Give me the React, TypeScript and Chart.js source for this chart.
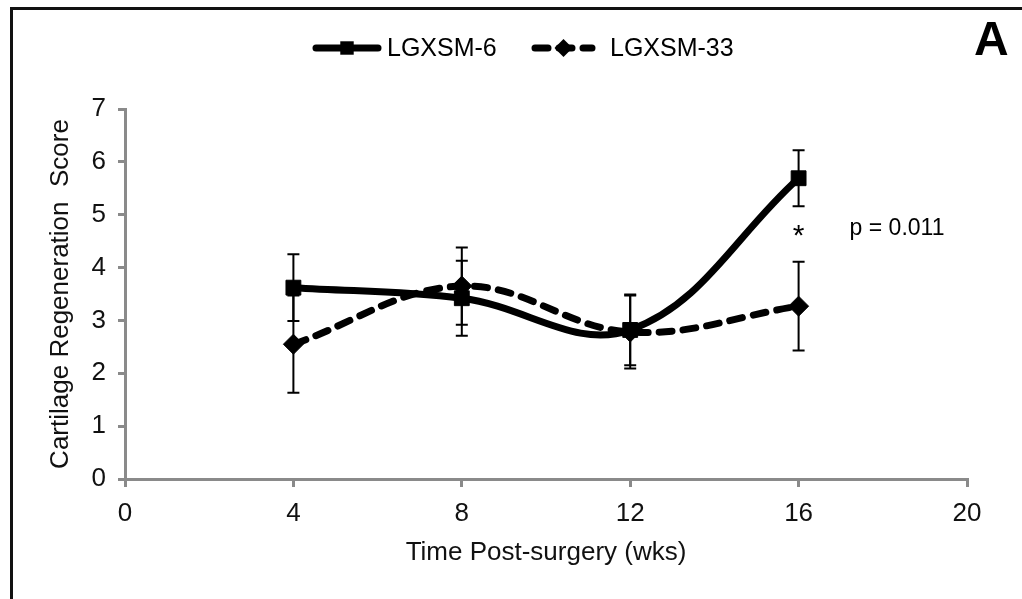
import React, { useEffect, useRef } from 'react';
import { Chart, registerables } from 'chart.js';

Chart.register(...registerables);

// ---- data ----
const weeks = [4, 8, 12, 16];
const seriesNames = ['LGXSM-6', 'LGXSM-33'];
const lgxsm6 = [3.62, 3.42, 2.82, 5.69];
const lgxsm6Err = [0.63, 0.71, 0.67, 0.53];
const lgxsm33 = [2.55, 3.65, 2.78, 3.27];
const lgxsm33Err = [0.92, 0.73, 0.69, 0.84];
const xTicks = [0, 4, 8, 12, 16, 20];
const yTicks = [0, 1, 2, 3, 4, 5, 6, 7];
const xTitle = 'Time Post-surgery (wks)';
const yTitle = 'Cartilage Regeneration  Score';
const sigWeek = 16;
const sigMark = '*';
const pText = 'p = 0.011';
const panelLabel = 'A';

const FONT = "'Liberation Sans', Arial, Helvetica, sans-serif";
const AXIS_GRAY = '#8a8a8a';

function drawMarker(ctx: CanvasRenderingContext2D, style: string, x: number, y: number, r: number) {
  ctx.beginPath();
  if (style === 'rect') {
    const s = r * Math.SQRT1_2;
    ctx.rect(x - s, y - s, 2 * s, 2 * s);
  } else {
    ctx.moveTo(x, y - r);
    ctx.lineTo(x + r, y);
    ctx.lineTo(x, y + r);
    ctx.lineTo(x - r, y);
    ctx.closePath();
  }
  ctx.fill();
}

const errorBarPlugin = {
  id: 'errorBars',
  afterDatasetsDraw(chart: any) {
    const { ctx, scales } = chart;
    const xs = scales.x;
    const ys = scales.y;
    ctx.save();
    ctx.strokeStyle = '#000';
    ctx.lineWidth = 2;
    chart.data.datasets.forEach((ds: any) => {
      const errs: number[] = ds.errors || [];
      ds.data.forEach((pt: any, j: number) => {
        const e = errs[j];
        if (e == null) return;
        const px = xs.getPixelForValue(pt.x);
        const top = ys.getPixelForValue(pt.y + e);
        const bot = ys.getPixelForValue(pt.y - e);
        const cap = 6;
        ctx.beginPath();
        ctx.moveTo(px, top);
        ctx.lineTo(px, bot);
        ctx.moveTo(px - cap, top);
        ctx.lineTo(px + cap, top);
        ctx.moveTo(px - cap, bot);
        ctx.lineTo(px + cap, bot);
        ctx.stroke();
      });
    });
    ctx.restore();
  },
};

const decorPlugin = {
  id: 'decor',
  afterDraw(chart: any) {
    const { ctx, scales } = chart;
    const xs = scales.x;
    const ys = scales.y;
    ctx.save();
    // custom legend
    const items = [
      { lineFrom: 313, lineTo: 381, textX: 387 },
      { lineFrom: 532, lineTo: 595, textX: 610 },
    ];
    const ly = 48;
    chart.data.datasets.forEach((ds: any, i: number) => {
      const it = items[i];
      ctx.strokeStyle = ds.borderColor;
      ctx.fillStyle = ds.borderColor;
      ctx.lineWidth = ds.borderWidth;
      ctx.lineCap = 'round';
      ctx.setLineDash(ds.borderDash || []);
      ctx.beginPath();
      ctx.moveTo(it.lineFrom + 3, ly);
      ctx.lineTo(it.lineTo - 3, ly);
      ctx.stroke();
      ctx.setLineDash([]);
      drawMarker(ctx, ds.pointStyle, (it.lineFrom + it.lineTo) / 2, ly, ds.pointStyle === 'rect' ? 9.5 : 9);
      ctx.font = `25px ${FONT}`;
      ctx.textAlign = 'left';
      ctx.textBaseline = 'middle';
      ctx.fillStyle = '#000';
      ctx.fillText(ds.label, it.textX, ly + 1);
    });
    // significance
    const sx = xs.getPixelForValue(sigWeek);
    ctx.font = `30px ${FONT}`;
    ctx.textAlign = 'center';
    ctx.textBaseline = 'alphabetic';
    ctx.fillText(sigMark, sx, ys.getPixelForValue(4.43));
    ctx.font = `23px ${FONT}`;
    ctx.textAlign = 'left';
    ctx.textBaseline = 'middle';
    ctx.fillText(pText, sx + 51, ys.getPixelForValue(4.73));
    // panel label
    ctx.font = `bold 48px ${FONT}`;
    ctx.textAlign = 'left';
    ctx.textBaseline = 'alphabetic';
    ctx.fillText(panelLabel, 974, 55);
    ctx.restore();
  },
};

export default function App() {
  const canvasRef = useRef<HTMLCanvasElement | null>(null);

  useEffect(() => {
    const canvas = canvasRef.current;
    if (!canvas) return;
    const chart = new Chart(canvas, {
      type: 'line',
      data: {
        datasets: [
          {
            label: seriesNames[0],
            data: weeks.map((w, i) => ({ x: w, y: lgxsm6[i] })),
            borderColor: '#000',
            backgroundColor: '#000',
            borderWidth: 7,
            tension: 0.38,
            pointStyle: 'rect',
            pointRadius: 10.5,
            pointBorderWidth: 1,
            pointBackgroundColor: '#000',
            pointBorderColor: '#000',
            errors: lgxsm6Err,
          } as any,
          {
            label: seriesNames[1],
            data: weeks.map((w, i) => ({ x: w, y: lgxsm33[i] })),
            borderColor: '#000',
            backgroundColor: '#000',
            borderWidth: 7,
            borderDash: [13, 11],
            borderCapStyle: 'round',
            tension: 0.38,
            pointStyle: 'rectRot',
            pointRadius: 10,
            pointBorderWidth: 1,
            pointBackgroundColor: '#000',
            pointBorderColor: '#000',
            errors: lgxsm33Err,
          } as any,
        ],
      },
      options: {
        animation: false,
        responsive: false,
        maintainAspectRatio: false,
        layout: { padding: { left: 0, top: 109, right: 55, bottom: 0 } },
        plugins: {
          legend: { display: false },
          tooltip: { enabled: false },
        },
        scales: {
          x: {
            type: 'linear',
            min: 0,
            max: 20,
            afterBuildTicks: (scale: any) => {
              scale.ticks = xTicks.map((v) => ({ value: v }));
            },
            afterFit: (scale: any) => {
              scale.height = 120;
            },
            grid: { drawOnChartArea: false, drawTicks: true, tickLength: 8, lineWidth: 3, color: AXIS_GRAY },
            border: { display: true, color: AXIS_GRAY, width: 3 },
            ticks: { color: '#111', font: { family: FONT, size: 26 }, padding: 11, maxRotation: 0, autoSkip: false },
            title: { display: true, text: xTitle, color: '#111', font: { family: FONT, size: 26 }, padding: { top: 0, bottom: 31 } },
          },
          y: {
            type: 'linear',
            min: 0,
            max: 7,
            afterBuildTicks: (scale: any) => {
              scale.ticks = yTicks.map((v) => ({ value: v }));
            },
            afterFit: (scale: any) => {
              scale.width = 125;
            },
            grid: { drawOnChartArea: false, drawTicks: true, tickLength: 7, lineWidth: 3, color: AXIS_GRAY },
            border: { display: true, color: AXIS_GRAY, width: 3 },
            ticks: { color: '#111', font: { family: FONT, size: 26 }, padding: 12, autoSkip: false },
            title: { display: true, text: yTitle, color: '#111', font: { family: FONT, size: 26 }, padding: { top: 45, bottom: 0 } },
          },
        },
      },
      plugins: [errorBarPlugin, decorPlugin],
    });
    return () => chart.destroy();
  }, []);

  return (
    <div style={{ position: 'fixed', left: 0, top: 0, width: 1022, height: 599, background: '#fff' }}>
      <div
        style={{
          position: 'absolute',
          left: 10,
          top: 7,
          right: -5,
          bottom: -5,
          borderLeft: '3px solid #111',
          borderTop: '3px solid #111',
        }}
      />
      <canvas ref={canvasRef} width={1022} height={599} style={{ position: 'absolute', left: 0, top: 0, width: 1022, height: 599 }} />
    </div>
  );
}
